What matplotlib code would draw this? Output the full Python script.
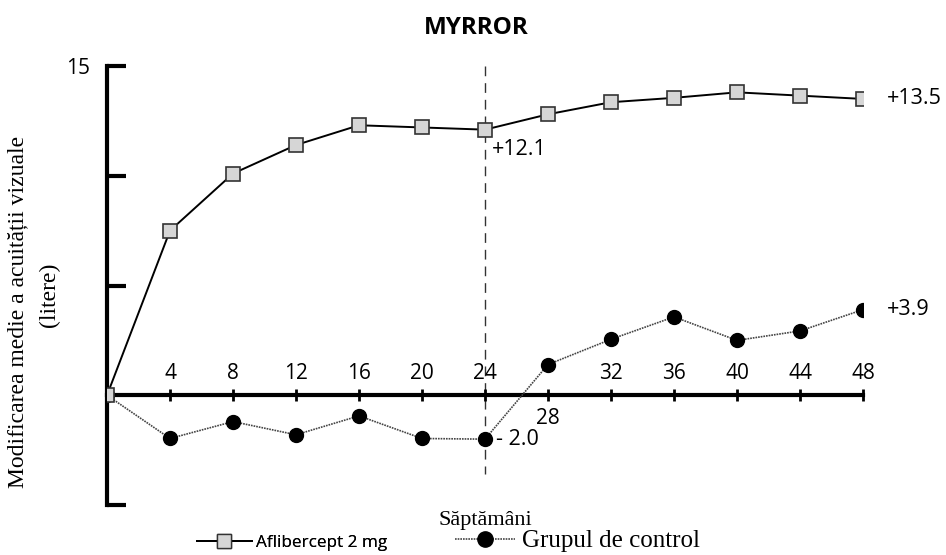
import numpy as np
import matplotlib
matplotlib.use("Agg")
import matplotlib.pyplot as plt
from matplotlib.lines import Line2D

# date
saptamani = [0, 4, 8, 12, 16, 20, 24, 28, 32, 36, 40, 44, 48]
aflibercept = [0, 7.5, 10.1, 11.4, 12.3, 12.2, 12.1, 12.8, 13.35, 13.55, 13.8, 13.65, 13.5]
control = [0, -1.97, -1.2, -1.8, -0.94, -1.97, -2.0, 1.4, 2.55, 3.57, 2.5, 2.93, 3.9]
etichete_x = ["4", "8", "12", "16", "20", "24", "28", "32", "36", "40", "44", "48"]

SANS = "Open Sans"
SERIF = "Liberation Serif"

fig = plt.figure(figsize=(9.46, 5.55), dpi=100)
ax = fig.add_axes([107 / 946, 50 / 555, 756 / 946, 439 / 555])
ax.set_xlim(0, 48)
ax.set_ylim(-5, 15)

# linia verticala punctata la saptamana 24
ax.plot([24, 24], [15, -3.6], color="#333333", lw=1, dashes=(7, 5), zorder=1)

# grupul de control
ax.plot(saptamani, control, color="#444444", lw=1.2, ls=(0, (1, 0.6)),
        marker="o", markersize=10, markerfacecolor="black",
        markeredgecolor="black", zorder=3)

# aflibercept
ax.plot(saptamani, aflibercept, color="black", lw=1.4,
        marker="s", markersize=10, markerfacecolor="#d6d6d6",
        markeredgecolor="#333333", markeredgewidth=1.2, zorder=4)

# axe
for s in ["top", "right"]:
    ax.spines[s].set_visible(False)
ax.spines["left"].set_linewidth(3)
ax.spines["left"].set_bounds(-5, 15)
ax.spines["bottom"].set_position(("data", 0))
ax.spines["bottom"].set_linewidth(3)
ax.spines["bottom"].set_zorder(2)

ax.set_yticks([-5, 5, 10, 15])
ax.set_yticklabels(["", "", "", "15"], fontsize=15, family=SANS)
ax.tick_params(axis="y", direction="in", length=14, width=3, pad=12)

ax.set_xticks(saptamani[1:])
ax.set_xticklabels([])
ax.tick_params(axis="x", direction="inout", length=8, width=2)

for w, lab in zip(saptamani[1:], etichete_x):
    dy = -16.5 if lab == "28" else 15.5
    ax.annotate(lab, (w, 0), xytext=(0, dy), textcoords="offset points",
                ha="center", va="center", fontsize=15, family=SANS)

# valori finale
ax.annotate("+12.1", (24, aflibercept[6]), xytext=(5, -14), textcoords="offset points",
            ha="left", va="center", fontsize=15.5, family=SANS)
ax.annotate("+13.5", (48, aflibercept[-1]), xytext=(17, 0), textcoords="offset points",
            ha="left", va="center", fontsize=15.5, family=SANS)
ax.annotate("- 2.0", (24, control[6]), xytext=(8, 0), textcoords="offset points",
            ha="left", va="center", fontsize=15.5, family=SANS)
ax.annotate("+3.9", (48, control[-1]), xytext=(17, 0), textcoords="offset points",
            ha="left", va="center", fontsize=15.5, family=SANS)

fig.text(476 / 946, 1 - 28 / 555, "MYRROR", ha="center", va="center",
         fontsize=17.5, fontweight="bold", family=SANS)
fig.text(18 / 946, 1 - 312 / 555, "Modificarea medie a acuității vizuale",
         rotation=90, ha="center", va="center", fontsize=17, family=SERIF)
fig.text(49 / 946, 1 - 295 / 555, "(litere)",
         rotation=90, ha="center", va="center", fontsize=17, family=SERIF)
fig.text(485 / 946, 1 - 520 / 555, "Săptămâni", ha="center", va="center",
         fontsize=16, family=SERIF)

# legenda
h1 = Line2D([], [], color="black", lw=1.4, marker="s", markersize=10,
            markerfacecolor="#d6d6d6", markeredgecolor="#333333")
h2 = Line2D([], [], color="#444444", lw=1.2, ls=(0, (1, 0.6)), marker="o",
            markersize=11, markerfacecolor="black", markeredgecolor="black")
leg1 = fig.legend([h1], ["Aflibercept 2 mg"], loc="center left",
                  bbox_to_anchor=(197 / 946, 1 - 543 / 555), frameon=False,
                  handlelength=3.2, handletextpad=0.25, borderpad=0,
                  borderaxespad=0, prop={"family": SANS, "size": 12.3})
leg2 = fig.legend([h2], ["Grupul de control"], loc="center left",
                  bbox_to_anchor=(455 / 946, 1 - 541 / 555), frameon=False,
                  handlelength=2.4, handletextpad=0.3, borderpad=0,
                  borderaxespad=0, prop={"family": SERIF, "size": 18})
fig.add_artist(leg1)

fig.savefig("out.png", dpi=100)
